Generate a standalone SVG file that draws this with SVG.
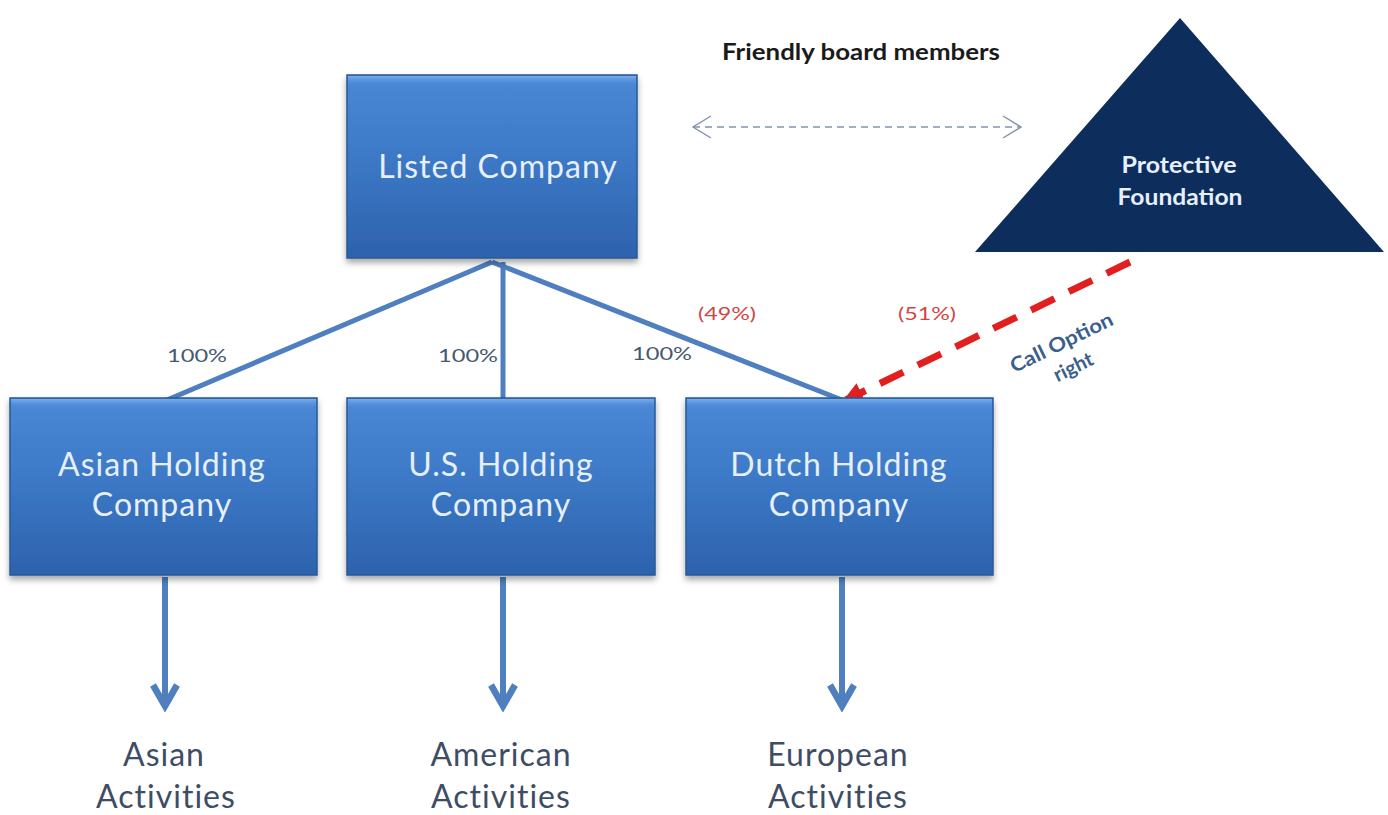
<svg xmlns="http://www.w3.org/2000/svg" width="1388" height="815" viewBox="0 0 1388 815">
<style>
.box{fill:url(#bg);stroke:#2a5a98;stroke-width:1.5}
.bev{fill:url(#bev)}
.bt{font-family:Lato,"Noto Sans",sans-serif;font-size:32px;letter-spacing:1px;fill:#e6effa;text-anchor:middle}
.pct{font-family:Lato,"Noto Sans",sans-serif;font-size:18px;fill:#46586f;text-anchor:middle}
.red{font-family:Lato,"Noto Sans",sans-serif;font-size:18px;fill:#d24545;text-anchor:middle}
.act{font-family:Lato,"Noto Sans",sans-serif;font-size:32px;letter-spacing:1px;fill:#3e4c66;text-anchor:middle}
.ln{stroke:#4f7fbf;stroke-width:5;fill:none}
.dn{stroke:#4f7fbf;stroke-width:6;fill:none;marker-end:url(#ah)}
</style>
<defs>
<linearGradient id="bg" x1="0" y1="0" x2="0" y2="1">
<stop offset="0" stop-color="#4a88d6"/>
<stop offset="0.5" stop-color="#3b77c4"/>
<stop offset="1" stop-color="#2d62ad"/>
</linearGradient>
<linearGradient id="bev" x1="0" y1="0" x2="0" y2="1">
<stop offset="0" stop-color="#7fb2ef" stop-opacity="0.9"/>
<stop offset="1" stop-color="#4a88d6" stop-opacity="0"/>
</linearGradient>
<filter id="sh" x="-10%" y="-10%" width="120%" height="130%">
<feDropShadow dx="0" dy="4" stdDeviation="3" flood-color="#000" flood-opacity="0.35"/>
</filter>
<marker id="ah" viewBox="0 0 10 10" refX="8" refY="5" markerWidth="5" markerHeight="5" orient="auto" markerUnits="strokeWidth">
<path d="M1,1 L8,5 L1,9" fill="none" stroke="#4f7fbf" stroke-width="2.2" stroke-linejoin="miter"/>
</marker>
<marker id="ra" viewBox="0 0 10 10" refX="8" refY="5" markerWidth="3" markerHeight="3" orient="auto" markerUnits="strokeWidth">
<path d="M0,0 L10,5 L0,10 z" fill="#e21f1f"/>
</marker>
<marker id="ga" viewBox="0 0 20 24" refX="19" refY="12" markerWidth="20" markerHeight="24" orient="auto" markerUnits="userSpaceOnUse">
<path d="M1,1 L19,12 L1,23" fill="none" stroke="#7f93aa" stroke-width="1.4"/>
</marker>
<marker id="gs" viewBox="0 0 20 24" refX="1" refY="12" markerWidth="20" markerHeight="24" orient="auto" markerUnits="userSpaceOnUse">
<path d="M19,1 L1,12 L19,23" fill="none" stroke="#7f93aa" stroke-width="1.4"/>
</marker>
</defs>
<rect width="1388" height="815" fill="#ffffff"/>

<g id="connectors">
<line class="ln" x1="492" y1="262" x2="167" y2="400"/>
<line class="ln" x1="503" y1="262" x2="503" y2="400"/>
<line class="ln" x1="492" y1="262" x2="842" y2="400"/>
<line class="dn" x1="165" y1="577" x2="165" y2="706"/>
<line class="dn" x1="503" y1="577" x2="503" y2="706"/>
<line class="dn" x1="842" y1="577" x2="842" y2="706"/>
<line x1="1130" y1="262" x2="846" y2="400" stroke="#e21f1f" stroke-width="7" stroke-dasharray="26,16" marker-end="url(#ra)"/>
<line x1="693" y1="127" x2="1021" y2="127" stroke="#7f93aa" stroke-width="1.4" stroke-dasharray="7,5" marker-start="url(#gs)" marker-end="url(#ga)"/>
<text class="pct" x="197" y="362" textLength="60" lengthAdjust="spacingAndGlyphs">100%</text>
<text class="pct" x="468" y="362" textLength="60" lengthAdjust="spacingAndGlyphs">100%</text>
<text class="pct" x="662" y="360" textLength="60" lengthAdjust="spacingAndGlyphs">100%</text>
<text class="red" x="727" y="320" textLength="58" lengthAdjust="spacingAndGlyphs">(49%)</text>
<text class="red" x="927" y="320" textLength="58" lengthAdjust="spacingAndGlyphs">(51%)</text>
<g transform="rotate(-26 1068 356)" font-family="Lato,'Noto Sans',sans-serif" font-size="20" font-weight="bold" fill="#3a5f8c" text-anchor="middle">
<text x="1068" y="348" textLength="112" lengthAdjust="spacingAndGlyphs">Call Option</text>
<text x="1068" y="375">right</text>
</g>
<text x="861" y="60" font-family="Lato,'Noto Sans',sans-serif" font-size="22" font-weight="bold" fill="#1a1a1a" text-anchor="middle" textLength="278" lengthAdjust="spacingAndGlyphs">Friendly board  members</text>
</g>

<g id="listed">
<rect class="box" x="347" y="75" width="290" height="183" filter="url(#sh)"/>
<rect class="bev" x="348" y="76" width="288" height="10"/>
<text class="bt" x="498" y="178">Listed Company</text>
</g>

<g id="foundation">
<polygon points="1180,18 975,252 1384,252" fill="#0d2d5d"/>
<text x="1179" y="173" font-family="Lato,'Noto Sans',sans-serif" font-size="22" font-weight="bold" fill="#e6effa" text-anchor="middle" textLength="115" lengthAdjust="spacingAndGlyphs">Protective</text>
<text x="1180" y="205" font-family="Lato,'Noto Sans',sans-serif" font-size="22" font-weight="bold" fill="#e6effa" text-anchor="middle" textLength="125" lengthAdjust="spacingAndGlyphs">Foundation</text>
</g>

<g id="asian">
<rect class="box" x="10" y="398" width="307" height="177" filter="url(#sh)"/>
<rect class="bev" x="11" y="399" width="305" height="10"/>
<text class="bt" x="162" y="476">Asian Holding</text>
<text class="bt" x="162" y="516">Company</text>
</g>

<g id="us">
<rect class="box" x="347" y="398" width="308" height="177" filter="url(#sh)"/>
<rect class="bev" x="348" y="399" width="306" height="10"/>
<text class="bt" x="501" y="476">U.S. Holding</text>
<text class="bt" x="501" y="516">Company</text>
</g>

<g id="dutch">
<rect class="box" x="686" y="398" width="307" height="177" filter="url(#sh)"/>
<rect class="bev" x="687" y="399" width="305" height="10"/>
<text class="bt" x="839" y="476">Dutch Holding</text>
<text class="bt" x="839" y="516">Company</text>
</g>

<g id="asian-act">
<text class="act" x="164" y="766">Asian</text>
<text class="act" x="166" y="808">Activities</text>
</g>
<g id="american-act">
<text class="act" x="501" y="766">American</text>
<text class="act" x="501" y="808">Activities</text>
</g>
<g id="european-act">
<text class="act" x="838" y="766">European</text>
<text class="act" x="838" y="808">Activities</text>
</g>
</svg>
